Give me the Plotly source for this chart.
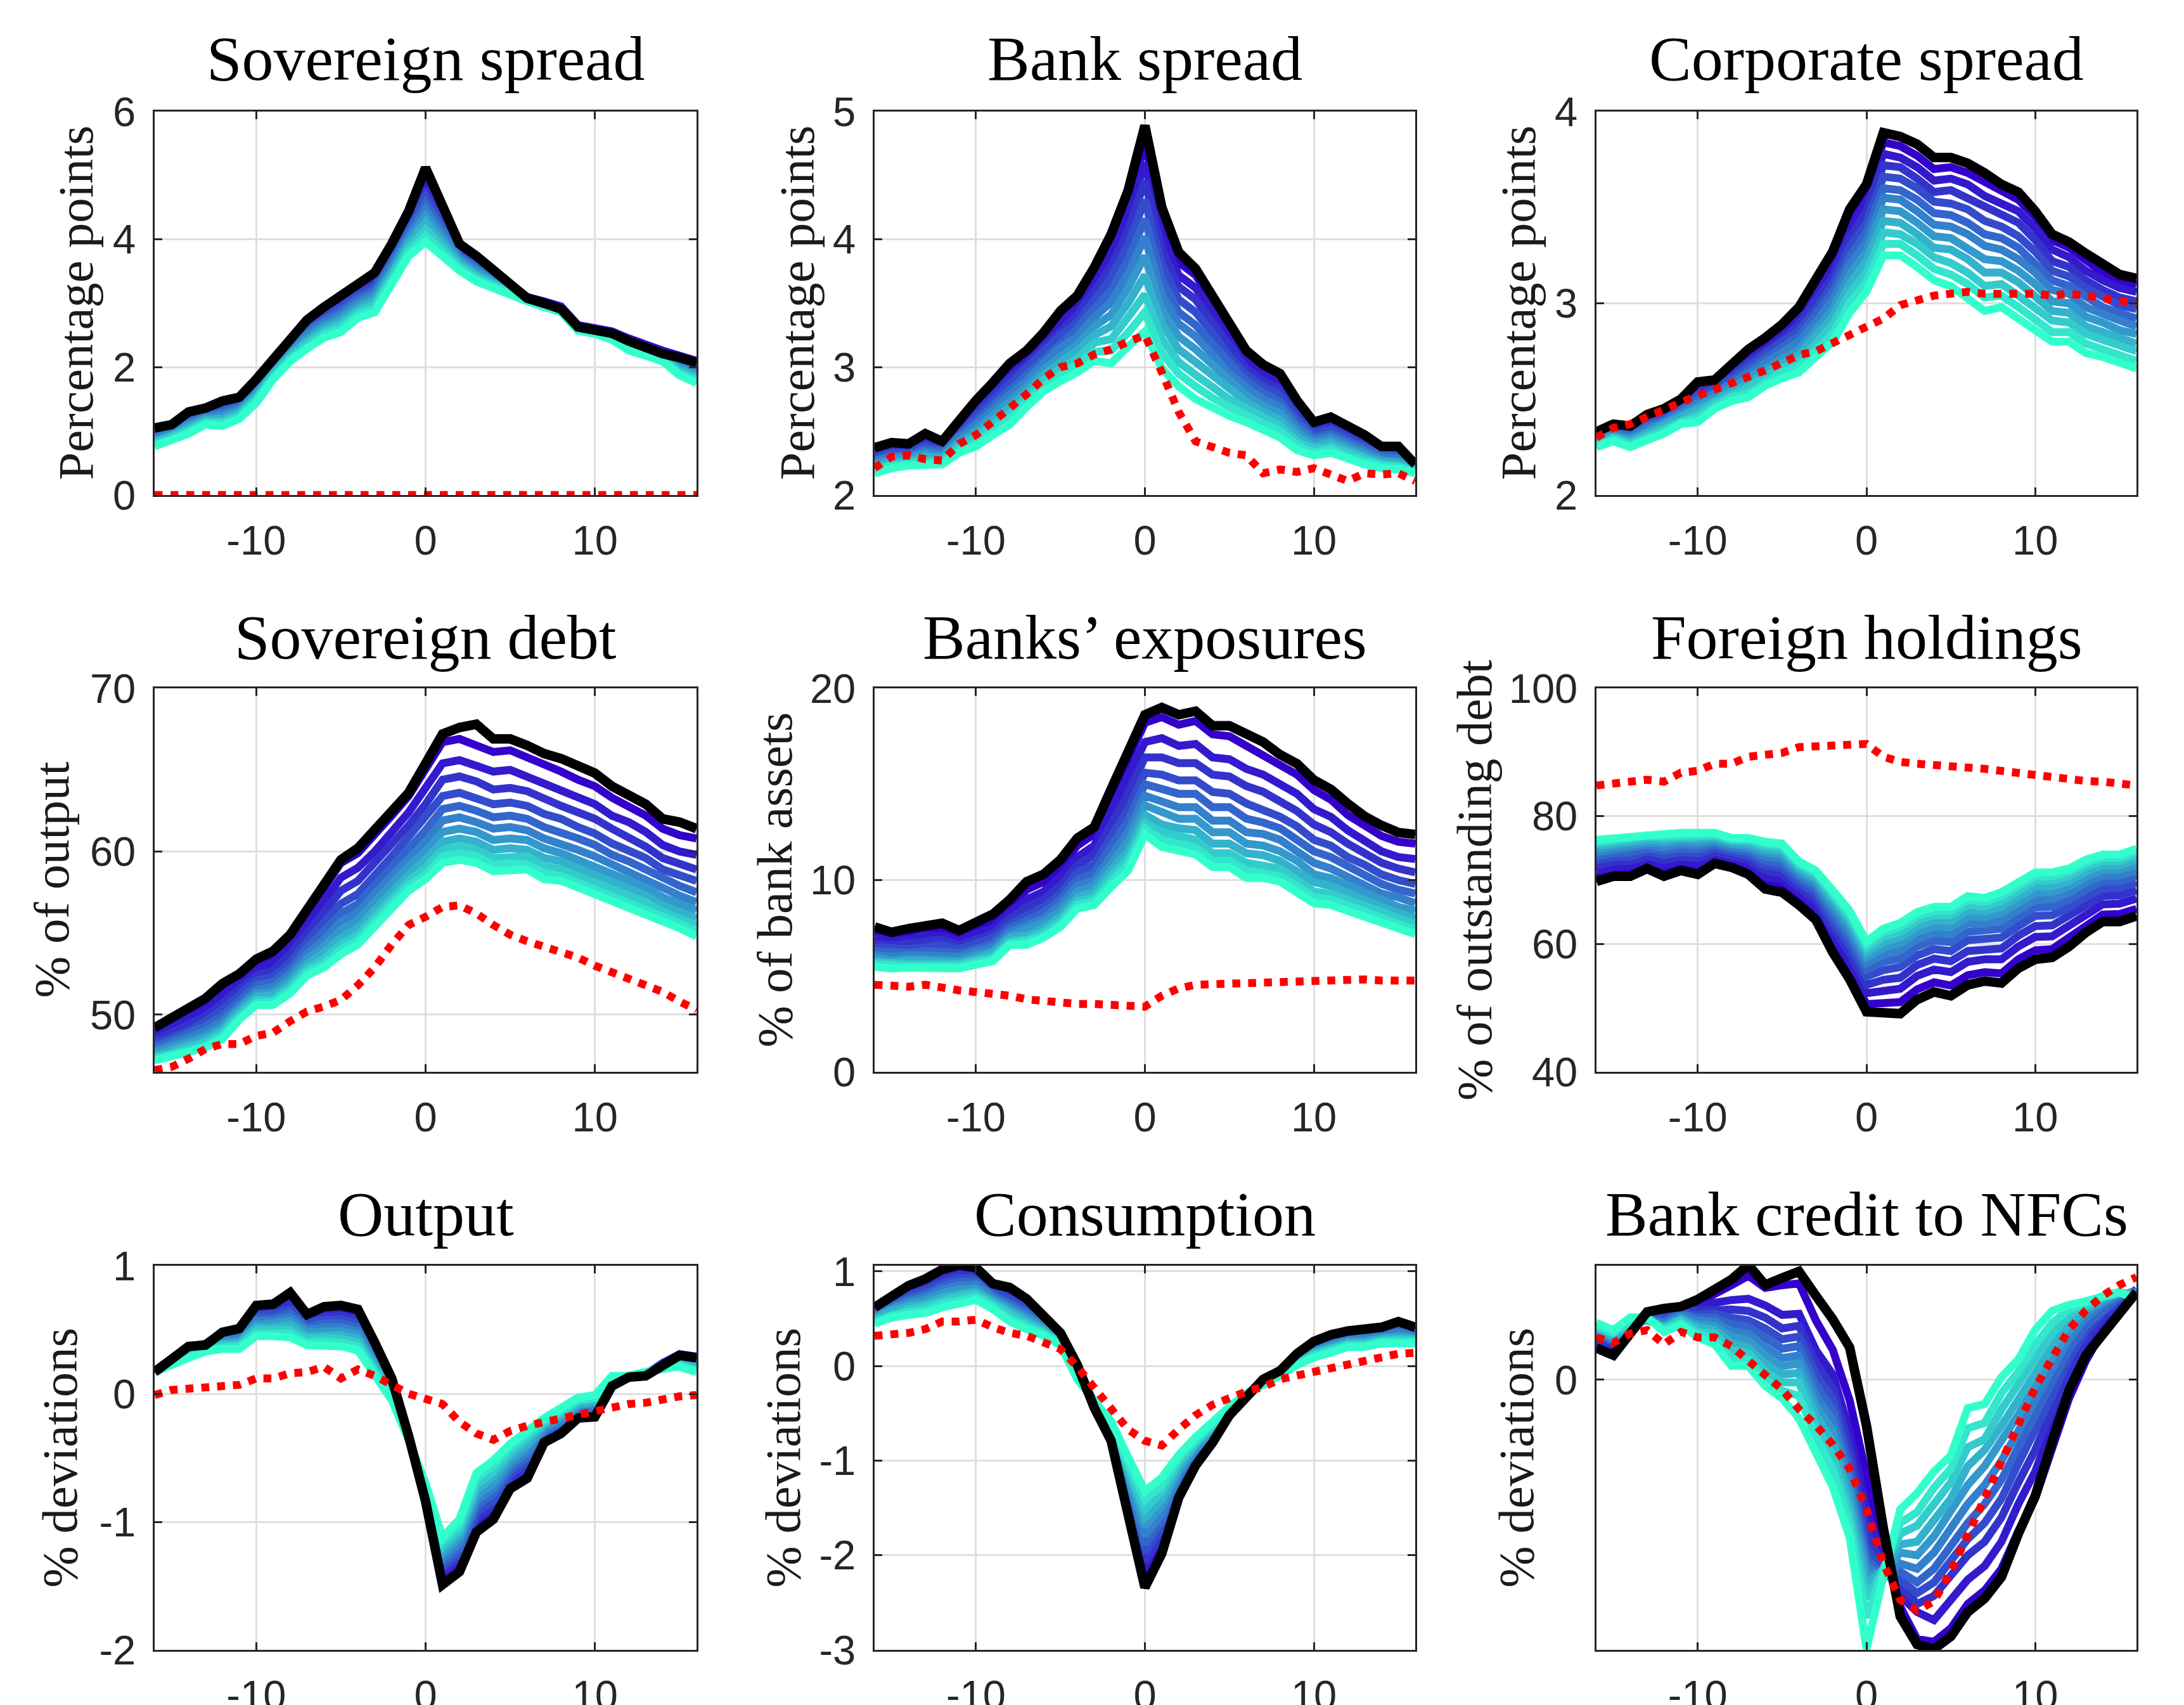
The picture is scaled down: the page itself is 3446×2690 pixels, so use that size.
import plotly.graph_objects as go

W, H = 3446, 2690
t = list(range(-16, 17))

titles = ["Sovereign spread", "Bank spread", "Corporate spread",
          "Sovereign debt", "Banks\u2019 exposures", "Foreign holdings",
          "Output", "Consumption", "Bank credit to NFCs"]
ytitles = ["Percentage points", "Percentage points", "Percentage points",
           "% of output", "% of bank assets", "% of outstanding debt",
           "% deviations", "% deviations", "% deviations"]
x_tickvals = [-10, 0, 10]
x_ticktext = ["-10", "0", "10"]

# ---------------- Sovereign spread ----------------
sov_spread_black = [1.05, 1.10, 1.30, 1.36, 1.47, 1.53, 1.81, 2.12, 2.43, 2.74, 2.94, 3.11, 3.31, 3.48, 3.93, 4.44, 5.12,
                    4.53, 3.93, 3.74, 3.51, 3.28, 3.08, 3.00, 2.91, 2.63, 2.57, 2.53, 2.41, 2.29, 2.21, 2.15, 2.07]
sov_spread_red = [0.0] * 33
sov_spread_fan = [
    [1.02, 0.99, 0.97, 0.94, 0.92, 0.89, 0.86, 0.84, 0.81, 0.79, 0.76],
    [1.08, 1.06, 1.03, 1.01, 0.99, 0.97, 0.94, 0.92, 0.90, 0.87, 0.85],
    [1.28, 1.25, 1.22, 1.18, 1.15, 1.12, 1.09, 1.06, 1.02, 0.99, 0.96],
    [1.35, 1.33, 1.30, 1.28, 1.25, 1.23, 1.20, 1.18, 1.15, 1.13, 1.10],
    [1.45, 1.41, 1.38, 1.34, 1.30, 1.27, 1.23, 1.19, 1.15, 1.12, 1.08],
    [1.52, 1.49, 1.45, 1.42, 1.39, 1.36, 1.32, 1.29, 1.26, 1.22, 1.19],
    [1.80, 1.76, 1.73, 1.69, 1.66, 1.62, 1.58, 1.55, 1.51, 1.48, 1.44],
    [2.10, 2.07, 2.04, 2.01, 1.98, 1.96, 1.93, 1.90, 1.87, 1.84, 1.81],
    [2.42, 2.39, 2.35, 2.32, 2.29, 2.26, 2.22, 2.19, 2.16, 2.12, 2.09],
    [2.72, 2.68, 2.63, 2.59, 2.55, 2.51, 2.46, 2.42, 2.38, 2.33, 2.29],
    [2.93, 2.88, 2.84, 2.79, 2.74, 2.70, 2.65, 2.60, 2.55, 2.51, 2.46],
    [3.10, 3.05, 2.99, 2.94, 2.88, 2.83, 2.77, 2.72, 2.66, 2.61, 2.55],
    [3.28, 3.23, 3.18, 3.13, 3.08, 3.03, 2.97, 2.92, 2.87, 2.82, 2.77],
    [3.45, 3.39, 3.33, 3.27, 3.21, 3.16, 3.10, 3.04, 2.98, 2.92, 2.86],
    [3.88, 3.82, 3.76, 3.70, 3.64, 3.58, 3.52, 3.46, 3.40, 3.34, 3.28],
    [4.38, 4.32, 4.25, 4.19, 4.12, 4.06, 4.00, 3.93, 3.87, 3.80, 3.74],
    [4.98, 4.88, 4.78, 4.67, 4.57, 4.47, 4.37, 4.27, 4.16, 4.06, 3.96],
    [4.45, 4.38, 4.31, 4.24, 4.17, 4.10, 4.02, 3.95, 3.88, 3.81, 3.74],
    [3.90, 3.86, 3.82, 3.78, 3.74, 3.71, 3.67, 3.63, 3.59, 3.55, 3.51],
    [3.72, 3.68, 3.64, 3.61, 3.57, 3.53, 3.49, 3.45, 3.42, 3.38, 3.34],
    [3.50, 3.47, 3.45, 3.42, 3.39, 3.37, 3.34, 3.31, 3.28, 3.26, 3.23],
    [3.28, 3.27, 3.25, 3.24, 3.22, 3.21, 3.20, 3.18, 3.17, 3.15, 3.14],
    [3.10, 3.09, 3.09, 3.08, 3.07, 3.07, 3.06, 3.05, 3.04, 3.04, 3.03],
    [3.03, 3.02, 3.01, 3.00, 2.99, 2.99, 2.98, 2.97, 2.96, 2.95, 2.94],
    [2.95, 2.94, 2.93, 2.92, 2.91, 2.91, 2.90, 2.89, 2.88, 2.87, 2.86],
    [2.66, 2.65, 2.64, 2.63, 2.62, 2.62, 2.61, 2.60, 2.59, 2.58, 2.57],
    [2.60, 2.59, 2.58, 2.58, 2.57, 2.56, 2.55, 2.54, 2.54, 2.53, 2.52],
    [2.56, 2.55, 2.53, 2.52, 2.51, 2.50, 2.48, 2.47, 2.46, 2.44, 2.43],
    [2.45, 2.43, 2.41, 2.39, 2.37, 2.36, 2.34, 2.32, 2.30, 2.28, 2.26],
    [2.34, 2.32, 2.31, 2.29, 2.28, 2.26, 2.24, 2.23, 2.21, 2.20, 2.18],
    [2.26, 2.24, 2.23, 2.21, 2.19, 2.18, 2.16, 2.14, 2.12, 2.11, 2.09],
    [2.18, 2.15, 2.12, 2.09, 2.06, 2.03, 1.99, 1.96, 1.93, 1.90, 1.87],
    [2.10, 2.07, 2.03, 2.00, 1.96, 1.93, 1.89, 1.86, 1.82, 1.79, 1.75],
]

# ---------------- Bank spread ----------------
bank_spread_black = [2.37, 2.41, 2.40, 2.48, 2.42, 2.59, 2.74, 2.88, 3.03, 3.13, 3.27, 3.44, 3.56, 3.78, 4.04, 4.38, 4.89,
                     4.25, 3.90, 3.77, 3.56, 3.32, 3.13, 3.02, 2.95, 2.74, 2.57, 2.61, 2.55, 2.47, 2.38, 2.38, 2.24]
bank_spread_red = [2.21, 2.30, 2.31, 2.28, 2.27, 2.40, 2.47, 2.57, 2.68, 2.79, 2.91, 3.00, 3.03, 3.10, 3.14, 3.20, 3.25,
                   2.96, 2.65, 2.42, 2.38, 2.33, 2.31, 2.17, 2.20, 2.18, 2.21, 2.16, 2.11, 2.17, 2.16, 2.17, 2.11]
bank_spread_fan = [
    [2.34, 2.32, 2.31, 2.29, 2.27, 2.26, 2.24, 2.22, 2.20, 2.19, 2.17],
    [2.38, 2.36, 2.35, 2.33, 2.31, 2.30, 2.28, 2.26, 2.24, 2.23, 2.21],
    [2.37, 2.36, 2.34, 2.33, 2.31, 2.30, 2.29, 2.27, 2.26, 2.24, 2.23],
    [2.45, 2.43, 2.41, 2.38, 2.36, 2.34, 2.32, 2.30, 2.27, 2.25, 2.23],
    [2.40, 2.38, 2.37, 2.35, 2.34, 2.32, 2.30, 2.29, 2.27, 2.26, 2.24],
    [2.56, 2.54, 2.51, 2.49, 2.47, 2.45, 2.42, 2.40, 2.38, 2.35, 2.33],
    [2.71, 2.68, 2.64, 2.61, 2.58, 2.55, 2.51, 2.48, 2.45, 2.41, 2.38],
    [2.85, 2.81, 2.77, 2.74, 2.70, 2.66, 2.62, 2.58, 2.55, 2.51, 2.47],
    [3.00, 2.96, 2.91, 2.87, 2.82, 2.78, 2.73, 2.69, 2.64, 2.60, 2.55],
    [3.10, 3.06, 3.02, 2.98, 2.94, 2.90, 2.85, 2.81, 2.77, 2.73, 2.69],
    [3.24, 3.20, 3.15, 3.11, 3.07, 3.03, 2.98, 2.94, 2.90, 2.85, 2.81],
    [3.40, 3.35, 3.30, 3.25, 3.20, 3.15, 3.09, 3.04, 2.99, 2.94, 2.89],
    [3.52, 3.46, 3.41, 3.35, 3.30, 3.24, 3.18, 3.13, 3.07, 3.02, 2.96],
    [3.73, 3.66, 3.59, 3.53, 3.46, 3.39, 3.32, 3.25, 3.19, 3.12, 3.05],
    [3.98, 3.89, 3.79, 3.70, 3.60, 3.51, 3.41, 3.32, 3.22, 3.13, 3.03],
    [4.30, 4.19, 4.07, 3.96, 3.84, 3.73, 3.62, 3.50, 3.39, 3.27, 3.16],
    [4.75, 4.60, 4.46, 4.31, 4.16, 4.02, 3.87, 3.72, 3.57, 3.43, 3.28],
    [4.15, 4.03, 3.92, 3.80, 3.69, 3.57, 3.45, 3.34, 3.22, 3.11, 2.99],
    [3.82, 3.72, 3.63, 3.53, 3.43, 3.34, 3.24, 3.14, 3.04, 2.95, 2.85],
    [3.72, 3.62, 3.53, 3.43, 3.33, 3.24, 3.14, 3.04, 2.94, 2.85, 2.75],
    [3.52, 3.44, 3.35, 3.27, 3.18, 3.10, 3.02, 2.93, 2.85, 2.76, 2.68],
    [3.28, 3.21, 3.15, 3.08, 3.02, 2.95, 2.88, 2.82, 2.75, 2.69, 2.62],
    [3.10, 3.05, 2.99, 2.94, 2.89, 2.84, 2.78, 2.73, 2.68, 2.62, 2.57],
    [2.99, 2.94, 2.89, 2.85, 2.80, 2.75, 2.70, 2.65, 2.61, 2.56, 2.51],
    [2.92, 2.87, 2.83, 2.78, 2.73, 2.69, 2.64, 2.59, 2.54, 2.50, 2.45],
    [2.71, 2.67, 2.64, 2.60, 2.57, 2.53, 2.49, 2.46, 2.42, 2.39, 2.35],
    [2.55, 2.53, 2.50, 2.48, 2.45, 2.43, 2.41, 2.38, 2.36, 2.33, 2.31],
    [2.58, 2.56, 2.53, 2.51, 2.48, 2.46, 2.43, 2.41, 2.38, 2.36, 2.33],
    [2.52, 2.50, 2.47, 2.45, 2.42, 2.40, 2.38, 2.35, 2.33, 2.30, 2.28],
    [2.45, 2.43, 2.41, 2.39, 2.37, 2.35, 2.32, 2.30, 2.28, 2.26, 2.24],
    [2.37, 2.35, 2.34, 2.32, 2.31, 2.29, 2.27, 2.26, 2.24, 2.23, 2.21],
    [2.36, 2.34, 2.33, 2.31, 2.30, 2.28, 2.26, 2.25, 2.23, 2.22, 2.20],
    [2.25, 2.24, 2.23, 2.23, 2.22, 2.21, 2.20, 2.19, 2.18, 2.18, 2.17],
]

# ---------------- Corporate spread ----------------
corp_spread_black = [2.33, 2.37, 2.36, 2.42, 2.45, 2.50, 2.59, 2.60, 2.68, 2.76, 2.82, 2.89, 2.98, 3.12, 3.27, 3.49, 3.62,
                     3.89, 3.87, 3.83, 3.76, 3.76, 3.73, 3.68, 3.62, 3.58, 3.48, 3.36, 3.32, 3.26, 3.21, 3.15, 3.13]
corp_spread_red = [2.30, 2.35, 2.37, 2.41, 2.44, 2.48, 2.52, 2.55, 2.58, 2.61, 2.65, 2.69, 2.73, 2.75, 2.79, 2.83, 2.87,
                   2.92, 2.99, 3.02, 3.04, 3.05, 3.06, 3.05, 3.05, 3.06, 3.05, 3.04, 3.05, 3.04, 3.03, 3.01, 3.00]
corp_spread_fan = [
    [2.32, 2.31, 2.31, 2.30, 2.29, 2.29, 2.28, 2.27, 2.26, 2.26, 2.25],
    [2.36, 2.35, 2.34, 2.34, 2.33, 2.32, 2.31, 2.30, 2.30, 2.29, 2.28],
    [2.35, 2.34, 2.33, 2.32, 2.31, 2.30, 2.29, 2.28, 2.27, 2.26, 2.25],
    [2.41, 2.40, 2.38, 2.37, 2.36, 2.35, 2.33, 2.32, 2.31, 2.29, 2.28],
    [2.44, 2.43, 2.42, 2.40, 2.39, 2.38, 2.37, 2.36, 2.34, 2.33, 2.32],
    [2.49, 2.48, 2.47, 2.45, 2.44, 2.43, 2.42, 2.41, 2.39, 2.38, 2.37],
    [2.58, 2.56, 2.54, 2.52, 2.50, 2.48, 2.46, 2.44, 2.42, 2.40, 2.38],
    [2.59, 2.58, 2.56, 2.55, 2.53, 2.52, 2.51, 2.49, 2.48, 2.46, 2.45],
    [2.66, 2.64, 2.63, 2.61, 2.59, 2.58, 2.56, 2.54, 2.52, 2.51, 2.49],
    [2.74, 2.72, 2.69, 2.67, 2.65, 2.63, 2.60, 2.58, 2.56, 2.53, 2.51],
    [2.80, 2.78, 2.75, 2.73, 2.71, 2.69, 2.66, 2.64, 2.62, 2.59, 2.57],
    [2.86, 2.84, 2.81, 2.79, 2.76, 2.74, 2.71, 2.69, 2.66, 2.64, 2.61],
    [2.95, 2.92, 2.89, 2.86, 2.83, 2.80, 2.76, 2.73, 2.70, 2.67, 2.64],
    [3.08, 3.04, 3.01, 2.97, 2.94, 2.90, 2.86, 2.83, 2.79, 2.76, 2.72],
    [3.23, 3.19, 3.14, 3.10, 3.06, 3.02, 2.97, 2.93, 2.89, 2.84, 2.80],
    [3.44, 3.39, 3.34, 3.29, 3.24, 3.20, 3.15, 3.10, 3.05, 3.00, 2.95],
    [3.58, 3.53, 3.48, 3.42, 3.37, 3.32, 3.27, 3.22, 3.16, 3.11, 3.06],
    [3.84, 3.78, 3.72, 3.66, 3.60, 3.55, 3.49, 3.43, 3.37, 3.31, 3.25],
    [3.82, 3.76, 3.71, 3.65, 3.59, 3.54, 3.48, 3.42, 3.36, 3.31, 3.25],
    [3.77, 3.71, 3.65, 3.60, 3.54, 3.48, 3.42, 3.36, 3.31, 3.25, 3.19],
    [3.70, 3.64, 3.58, 3.53, 3.47, 3.41, 3.35, 3.29, 3.24, 3.18, 3.12],
    [3.71, 3.65, 3.59, 3.52, 3.46, 3.40, 3.34, 3.28, 3.21, 3.15, 3.09],
    [3.68, 3.62, 3.55, 3.49, 3.42, 3.36, 3.29, 3.23, 3.16, 3.10, 3.03],
    [3.63, 3.56, 3.50, 3.43, 3.36, 3.30, 3.23, 3.16, 3.09, 3.03, 2.96],
    [3.58, 3.52, 3.46, 3.40, 3.34, 3.28, 3.22, 3.16, 3.10, 3.04, 2.98],
    [3.54, 3.48, 3.42, 3.35, 3.29, 3.23, 3.17, 3.11, 3.04, 2.98, 2.92],
    [3.45, 3.39, 3.33, 3.27, 3.21, 3.16, 3.10, 3.04, 2.98, 2.92, 2.86],
    [3.33, 3.28, 3.22, 3.17, 3.12, 3.07, 3.01, 2.96, 2.91, 2.85, 2.80],
    [3.29, 3.24, 3.19, 3.14, 3.09, 3.05, 3.00, 2.95, 2.90, 2.85, 2.80],
    [3.22, 3.17, 3.12, 3.08, 3.03, 2.98, 2.93, 2.88, 2.84, 2.79, 2.74],
    [3.16, 3.12, 3.07, 3.03, 2.98, 2.94, 2.90, 2.85, 2.81, 2.76, 2.72],
    [3.12, 3.08, 3.03, 2.99, 2.95, 2.91, 2.86, 2.82, 2.78, 2.73, 2.69],
    [3.10, 3.06, 3.01, 2.97, 2.92, 2.88, 2.84, 2.79, 2.75, 2.70, 2.66],
]

# ---------------- Sovereign debt ----------------
sov_debt_black = [49.2, 49.8, 50.3, 51.0, 51.9, 52.5, 53.4, 53.9, 54.9, 56.4, 58.0, 59.5, 60.2, 61.3, 62.4, 63.6, 65.4,
                  67.2, 67.6, 67.8, 66.9, 66.9, 66.5, 66.0, 65.7, 65.3, 64.8, 64.0, 63.5, 62.9, 62.0, 61.8, 61.4]
sov_debt_red = [46.6, 46.8, 47.3, 47.9, 48.2, 48.2, 48.7, 48.9, 49.6, 50.2, 50.5, 50.9, 51.8, 52.9, 54.3, 55.5, 56.0,
                56.6, 56.7, 56.2, 55.5, 54.9, 54.5, 54.2, 53.9, 53.5, 53.0, 52.6, 52.3, 51.8, 51.4, 50.8, 50.3]
sov_debt_fan = [
    [49.0, 48.7, 48.4, 48.2, 48.0, 47.8, 47.7, 47.5, 47.4, 47.3, 47.2],
    [49.6, 49.2, 48.9, 48.6, 48.4, 48.2, 48.0, 47.8, 47.6, 47.5, 47.4],
    [50.1, 49.7, 49.4, 49.0, 48.8, 48.5, 48.3, 48.1, 48.0, 47.8, 47.7],
    [50.8, 50.3, 49.9, 49.6, 49.3, 49.0, 48.7, 48.5, 48.3, 48.1, 48.0],
    [51.7, 51.2, 50.7, 50.3, 49.9, 49.6, 49.3, 49.1, 48.9, 48.7, 48.5],
    [52.3, 51.9, 51.5, 51.2, 50.9, 50.6, 50.4, 50.2, 50.0, 49.8, 49.7],
    [53.2, 52.8, 52.4, 52.1, 51.8, 51.5, 51.3, 51.1, 50.9, 50.7, 50.6],
    [53.7, 53.2, 52.7, 52.3, 52.0, 51.7, 51.4, 51.2, 50.9, 50.8, 50.6],
    [54.7, 54.1, 53.7, 53.2, 52.8, 52.5, 52.2, 51.9, 51.7, 51.5, 51.3],
    [56.2, 55.6, 55.0, 54.5, 54.1, 53.7, 53.4, 53.1, 52.8, 52.6, 52.4],
    [57.8, 57.0, 56.3, 55.6, 55.1, 54.6, 54.2, 53.8, 53.4, 53.1, 52.9],
    [59.3, 58.4, 57.6, 56.8, 56.2, 55.7, 55.2, 54.7, 54.3, 54.0, 53.7],
    [59.9, 59.0, 58.2, 57.4, 56.8, 56.3, 55.8, 55.3, 54.9, 54.6, 54.3],
    [61.0, 60.0, 59.3, 58.5, 57.9, 57.4, 56.9, 56.4, 56.0, 55.7, 55.4],
    [62.2, 61.2, 60.4, 59.7, 59.1, 58.5, 58.0, 57.5, 57.1, 56.8, 56.5],
    [63.4, 62.4, 61.6, 60.9, 60.2, 59.6, 59.1, 58.6, 58.2, 57.9, 57.6],
    [65.0, 63.9, 62.9, 62.1, 61.3, 60.6, 60.0, 59.5, 59.0, 58.6, 58.3],
    [66.7, 65.4, 64.4, 63.4, 62.6, 61.9, 61.2, 60.6, 60.1, 59.7, 59.3],
    [66.9, 65.6, 64.6, 63.6, 62.8, 62.1, 61.4, 60.8, 60.3, 59.9, 59.5],
    [66.5, 65.3, 64.3, 63.3, 62.5, 61.8, 61.2, 60.6, 60.1, 59.7, 59.3],
    [66.1, 64.9, 63.8, 62.9, 62.1, 61.4, 60.7, 60.1, 59.6, 59.2, 58.8],
    [66.2, 65.0, 63.9, 63.0, 62.2, 61.5, 60.8, 60.2, 59.7, 59.3, 58.9],
    [65.8, 64.6, 63.7, 62.8, 62.0, 61.3, 60.7, 60.1, 59.7, 59.2, 58.9],
    [65.4, 64.2, 63.2, 62.3, 61.5, 60.8, 60.2, 59.6, 59.1, 58.7, 58.3],
    [64.9, 63.8, 62.8, 62.0, 61.2, 60.5, 59.9, 59.4, 58.9, 58.5, 58.2],
    [64.4, 63.3, 62.4, 61.5, 60.8, 60.1, 59.5, 59.0, 58.5, 58.1, 57.8],
    [64.0, 62.9, 62.0, 61.1, 60.4, 59.7, 59.1, 58.6, 58.1, 57.7, 57.4],
    [63.3, 62.2, 61.4, 60.5, 59.8, 59.2, 58.6, 58.1, 57.7, 57.3, 57.0],
    [62.8, 61.8, 60.9, 60.1, 59.4, 58.8, 58.2, 57.7, 57.3, 56.9, 56.6],
    [62.2, 61.2, 60.3, 59.6, 58.9, 58.3, 57.8, 57.3, 56.9, 56.5, 56.2],
    [61.4, 60.4, 59.6, 58.9, 58.3, 57.7, 57.2, 56.7, 56.3, 56.0, 55.7],
    [61.0, 60.0, 59.2, 58.5, 57.9, 57.3, 56.8, 56.3, 55.9, 55.6, 55.3],
    [60.8, 59.8, 58.9, 58.2, 57.5, 56.9, 56.4, 55.9, 55.5, 55.1, 54.8],
]

# ---------------- Banks' exposures ----------------
bank_exp_black = [7.56, 7.28, 7.47, 7.66, 7.75, 7.37, 7.75, 8.22, 8.98, 9.92, 10.30, 11.06, 12.19, 12.76, 14.74, 16.54, 18.62,
                  19.00, 18.62, 18.81, 18.05, 18.05, 17.58, 17.20, 16.54, 16.07, 15.22, 14.74, 13.99, 13.33, 12.85, 12.48, 12.38]
bank_exp_red = [4.54, 4.48, 4.44, 4.54, 4.35, 4.25, 4.16, 4.10, 3.97, 3.78, 3.69, 3.59, 3.54, 3.54, 3.50, 3.46, 3.40,
                3.97, 4.35, 4.54, 4.57, 4.63, 4.67, 4.73, 4.73, 4.73, 4.73, 4.76, 4.86, 4.82, 4.76, 4.76, 4.76]
bank_exp_fan = [
    [7.3, 7.0, 6.7, 6.5, 6.3, 6.1, 6.0, 5.8, 5.7, 5.6, 5.48],
    [7.1, 6.8, 6.6, 6.4, 6.2, 6.0, 5.8, 5.7, 5.6, 5.5, 5.39],
    [7.2, 6.9, 6.7, 6.4, 6.2, 6.1, 5.9, 5.8, 5.6, 5.5, 5.43],
    [7.4, 7.1, 6.8, 6.5, 6.3, 6.1, 5.9, 5.8, 5.6, 5.5, 5.39],
    [7.5, 7.1, 6.9, 6.6, 6.3, 6.1, 5.9, 5.8, 5.6, 5.5, 5.39],
    [7.1, 6.8, 6.6, 6.4, 6.2, 6.0, 5.8, 5.7, 5.6, 5.5, 5.39],
    [7.5, 7.2, 6.9, 6.7, 6.4, 6.3, 6.1, 5.9, 5.8, 5.7, 5.58],
    [7.9, 7.5, 7.2, 7.0, 6.7, 6.5, 6.3, 6.2, 6.0, 5.9, 5.77],
    [8.6, 8.3, 8.0, 7.7, 7.5, 7.3, 7.1, 7.0, 6.8, 6.7, 6.62],
    [9.5, 9.0, 8.6, 8.2, 7.9, 7.6, 7.4, 7.1, 6.9, 6.8, 6.62],
    [9.9, 9.4, 9.0, 8.6, 8.3, 8.0, 7.8, 7.5, 7.3, 7.1, 6.99],
    [10.7, 10.2, 9.7, 9.3, 9.0, 8.7, 8.4, 8.1, 7.9, 7.7, 7.56],
    [11.8, 11.2, 10.8, 10.4, 10.0, 9.7, 9.4, 9.1, 8.9, 8.7, 8.51],
    [12.4, 11.8, 11.3, 10.8, 10.4, 10.0, 9.7, 9.4, 9.1, 8.9, 8.70],
    [14.4, 13.6, 12.9, 12.3, 11.8, 11.3, 10.9, 10.5, 10.2, 9.9, 9.64],
    [16.3, 15.3, 14.5, 13.7, 13.1, 12.5, 12.0, 11.5, 11.1, 10.8, 10.49],
    [18.2, 17.2, 16.4, 15.6, 15.0, 14.4, 13.9, 13.4, 13.0, 12.7, 12.38],
    [18.5, 17.4, 16.4, 15.5, 14.8, 14.1, 13.5, 12.9, 12.5, 12.1, 11.72],
    [18.1, 17.0, 16.1, 15.2, 14.5, 13.8, 13.2, 12.7, 12.3, 11.9, 11.53],
    [18.3, 17.1, 16.1, 15.2, 14.5, 13.8, 13.2, 12.6, 12.1, 11.7, 11.34],
    [17.6, 16.4, 15.5, 14.6, 13.8, 13.1, 12.5, 11.9, 11.4, 11.0, 10.68],
    [17.5, 16.3, 15.4, 14.5, 13.8, 13.1, 12.5, 11.9, 11.4, 11.0, 10.68],
    [17.0, 15.8, 14.9, 14.0, 13.2, 12.5, 11.9, 11.4, 10.9, 10.5, 10.11],
    [16.6, 15.5, 14.6, 13.7, 13.0, 12.4, 11.8, 11.3, 10.8, 10.4, 10.11],
    [16.0, 15.0, 14.1, 13.3, 12.7, 12.1, 11.5, 11.0, 10.6, 10.2, 9.92],
    [15.5, 14.5, 13.6, 12.8, 12.1, 11.5, 11.0, 10.5, 10.0, 9.7, 9.36],
    [14.7, 13.7, 12.9, 12.1, 11.5, 10.9, 10.3, 9.9, 9.4, 9.1, 8.79],
    [14.2, 13.3, 12.5, 11.8, 11.2, 10.6, 10.1, 9.7, 9.3, 9.0, 8.70],
    [13.4, 12.6, 11.9, 11.2, 10.7, 10.2, 9.7, 9.3, 9.0, 8.7, 8.41],
    [12.8, 12.0, 11.4, 10.8, 10.2, 9.8, 9.3, 9.0, 8.6, 8.4, 8.13],
    [12.3, 11.5, 10.9, 10.3, 9.8, 9.3, 8.9, 8.6, 8.3, 8.0, 7.75],
    [12.0, 11.2, 10.6, 10.0, 9.5, 9.1, 8.6, 8.3, 8.0, 7.7, 7.47],
    [11.9, 11.1, 10.4, 9.8, 9.3, 8.8, 8.4, 8.0, 7.7, 7.4, 7.18],
]

# ---------------- Foreign holdings ----------------
foreign_black = [69.8, 70.6, 70.6, 71.8, 70.6, 71.5, 70.9, 72.6, 72.0, 70.9, 68.6, 68.1, 66.1, 63.8, 58.7, 54.5, 49.4,
                 49.1, 49.1, 51.3, 52.5, 51.9, 53.6, 54.2, 53.9, 56.2, 57.6, 57.9, 59.6, 61.8, 63.5, 63.5, 64.4]
foreign_red = [84.8, 85.1, 85.4, 85.7, 85.4, 86.8, 87.1, 88.2, 88.2, 89.3, 89.6, 89.9, 90.8, 90.9, 90.9, 91.0, 91.3,
               89.3, 88.5, 88.2, 87.9, 87.6, 87.6, 87.4, 87.1, 86.8, 86.2, 85.9, 85.7, 85.5, 85.4, 85.1, 84.8]
foreign_fan = [
    [70.5, 71.5, 72.3, 73.1, 73.7, 74.3, 74.8, 75.3, 75.7, 76.0, 76.3],
    [71.2, 72.1, 72.9, 73.6, 74.2, 74.7, 75.2, 75.6, 76.0, 76.3, 76.6],
    [71.2, 72.2, 73.0, 73.7, 74.3, 74.9, 75.4, 75.9, 76.3, 76.6, 76.9],
    [72.3, 73.1, 73.8, 74.5, 75.0, 75.5, 75.9, 76.3, 76.7, 77.0, 77.2],
    [71.3, 72.3, 73.1, 73.9, 74.6, 75.1, 75.7, 76.1, 76.6, 76.9, 77.2],
    [72.1, 73.0, 73.7, 74.4, 75.0, 75.6, 76.0, 76.5, 76.8, 77.1, 77.4],
    [71.6, 72.6, 73.4, 74.2, 74.8, 75.4, 75.9, 76.4, 76.8, 77.1, 77.4],
    [73.1, 73.8, 74.4, 75.0, 75.5, 75.9, 76.3, 76.6, 76.9, 77.2, 77.4],
    [72.6, 73.3, 73.8, 74.4, 74.8, 75.2, 75.6, 75.9, 76.2, 76.4, 76.6],
    [71.6, 72.5, 73.2, 73.8, 74.4, 74.9, 75.3, 75.7, 76.1, 76.4, 76.6],
    [69.4, 70.5, 71.5, 72.3, 73.0, 73.7, 74.3, 74.8, 75.3, 75.7, 76.0],
    [68.9, 70.1, 71.0, 71.9, 72.6, 73.3, 73.9, 74.5, 75.0, 75.4, 75.7],
    [67.0, 68.0, 68.8, 69.6, 70.3, 70.8, 71.4, 71.8, 72.3, 72.6, 72.9],
    [64.8, 65.9, 66.9, 67.8, 68.5, 69.2, 69.8, 70.3, 70.8, 71.2, 71.5],
    [59.8, 61.3, 62.5, 63.6, 64.5, 65.4, 66.2, 66.9, 67.5, 68.0, 68.4],
    [55.6, 57.2, 58.6, 59.8, 60.9, 61.8, 62.7, 63.5, 64.1, 64.7, 65.2],
    [50.6, 52.3, 53.6, 54.9, 56.0, 57.0, 57.9, 58.6, 59.3, 59.9, 60.4],
    [50.8, 52.8, 54.4, 55.9, 57.2, 58.3, 59.4, 60.3, 61.1, 61.8, 62.4],
    [50.9, 53.0, 54.7, 56.4, 57.7, 59.0, 60.1, 61.1, 61.9, 62.7, 63.3],
    [52.9, 55.0, 56.7, 58.2, 59.6, 60.8, 61.9, 62.8, 63.7, 64.4, 65.0],
    [54.0, 56.0, 57.7, 59.2, 60.5, 61.7, 62.7, 63.7, 64.5, 65.2, 65.8],
    [53.5, 55.6, 57.3, 58.9, 60.3, 61.5, 62.6, 63.6, 64.5, 65.2, 65.8],
    [55.1, 57.2, 58.9, 60.6, 61.9, 63.2, 64.3, 65.3, 66.1, 66.9, 67.5],
    [55.6, 57.6, 59.2, 60.7, 62.0, 63.1, 64.2, 65.1, 65.9, 66.6, 67.2],
    [55.4, 57.6, 59.3, 61.0, 62.4, 63.7, 64.8, 65.8, 66.7, 67.5, 68.1],
    [57.6, 59.6, 61.3, 62.8, 64.2, 65.3, 66.4, 67.4, 68.2, 68.9, 69.5],
    [59.0, 61.1, 62.8, 64.4, 65.7, 66.9, 68.0, 69.0, 69.9, 70.6, 71.2],
    [59.2, 61.2, 62.9, 64.5, 65.8, 67.0, 68.1, 69.0, 69.9, 70.6, 71.2],
    [60.9, 62.8, 64.3, 65.7, 66.9, 68.0, 69.0, 69.8, 70.6, 71.3, 71.8],
    [62.8, 64.6, 66.0, 67.4, 68.5, 69.6, 70.5, 71.3, 72.1, 72.7, 73.2],
    [64.6, 66.2, 67.5, 68.7, 69.8, 70.7, 71.6, 72.3, 73.0, 73.5, 74.0],
    [64.7, 66.3, 67.6, 68.8, 69.8, 70.7, 71.6, 72.3, 73.0, 73.5, 74.0],
    [65.5, 67.1, 68.4, 69.6, 70.7, 71.6, 72.5, 73.2, 73.9, 74.4, 74.9],
]

# ---------------- Output ----------------
output_black = [0.17, 0.27, 0.37, 0.38, 0.48, 0.51, 0.69, 0.70, 0.79, 0.62, 0.68, 0.69, 0.66, 0.40, 0.12, -0.33, -0.84,
                -1.49, -1.39, -1.08, -0.98, -0.74, -0.66, -0.38, -0.31, -0.19, -0.18, 0.06, 0.13, 0.14, 0.23, 0.30, 0.28]
output_red = [-0.01, 0.03, 0.04, 0.05, 0.06, 0.07, 0.12, 0.12, 0.16, 0.17, 0.21, 0.12, 0.19, 0.14, 0.07, 0.00, -0.04,
              -0.08, -0.22, -0.31, -0.36, -0.29, -0.25, -0.22, -0.19, -0.17, -0.14, -0.11, -0.08, -0.07, -0.04, -0.02, -0.01]
output_fan = [
    [0.18, 0.18, 0.18, 0.18, 0.18, 0.18, 0.17, 0.17, 0.17, 0.17, 0.17],
    [0.27, 0.27, 0.26, 0.26, 0.25, 0.25, 0.25, 0.24, 0.24, 0.23, 0.23],
    [0.37, 0.36, 0.35, 0.34, 0.33, 0.33, 0.32, 0.31, 0.30, 0.29, 0.28],
    [0.39, 0.38, 0.38, 0.37, 0.37, 0.36, 0.35, 0.35, 0.34, 0.34, 0.33],
    [0.48, 0.47, 0.45, 0.44, 0.43, 0.42, 0.40, 0.39, 0.38, 0.36, 0.35],
    [0.51, 0.49, 0.48, 0.46, 0.45, 0.43, 0.41, 0.40, 0.38, 0.37, 0.35],
    [0.68, 0.66, 0.63, 0.61, 0.59, 0.57, 0.54, 0.52, 0.50, 0.47, 0.45],
    [0.69, 0.67, 0.64, 0.62, 0.59, 0.57, 0.55, 0.52, 0.50, 0.47, 0.45],
    [0.76, 0.73, 0.70, 0.66, 0.63, 0.60, 0.57, 0.54, 0.50, 0.47, 0.44],
    [0.62, 0.60, 0.57, 0.55, 0.52, 0.50, 0.48, 0.45, 0.43, 0.40, 0.38],
    [0.66, 0.63, 0.60, 0.58, 0.55, 0.52, 0.49, 0.46, 0.44, 0.41, 0.38],
    [0.67, 0.64, 0.61, 0.58, 0.55, 0.52, 0.49, 0.46, 0.43, 0.40, 0.37],
    [0.64, 0.61, 0.58, 0.55, 0.52, 0.49, 0.46, 0.43, 0.40, 0.37, 0.34],
    [0.39, 0.37, 0.34, 0.32, 0.29, 0.27, 0.24, 0.22, 0.19, 0.17, 0.14],
    [0.11, 0.09, 0.08, 0.06, 0.05, 0.03, 0.01, 0.00, -0.02, -0.03, -0.05],
    [-0.33, -0.33, -0.34, -0.34, -0.34, -0.35, -0.35, -0.35, -0.35, -0.36, -0.36],
    [-0.83, -0.82, -0.80, -0.79, -0.78, -0.77, -0.75, -0.74, -0.73, -0.71, -0.70],
    [-1.45, -1.42, -1.38, -1.35, -1.32, -1.29, -1.25, -1.22, -1.19, -1.15, -1.12],
    [-1.36, -1.32, -1.28, -1.25, -1.21, -1.17, -1.13, -1.09, -1.06, -1.02, -0.98],
    [-1.06, -1.02, -0.97, -0.93, -0.88, -0.84, -0.80, -0.75, -0.71, -0.66, -0.62],
    [-0.96, -0.92, -0.87, -0.83, -0.78, -0.74, -0.70, -0.65, -0.61, -0.56, -0.52],
    [-0.73, -0.70, -0.66, -0.63, -0.59, -0.56, -0.53, -0.49, -0.46, -0.42, -0.39],
    [-0.64, -0.60, -0.57, -0.53, -0.50, -0.46, -0.42, -0.39, -0.35, -0.32, -0.28],
    [-0.37, -0.35, -0.33, -0.32, -0.30, -0.28, -0.26, -0.24, -0.23, -0.21, -0.19],
    [-0.30, -0.28, -0.26, -0.24, -0.22, -0.21, -0.19, -0.17, -0.15, -0.13, -0.11],
    [-0.18, -0.17, -0.15, -0.14, -0.12, -0.11, -0.09, -0.08, -0.06, -0.05, -0.03],
    [-0.17, -0.15, -0.14, -0.12, -0.11, -0.09, -0.07, -0.06, -0.04, -0.03, -0.01],
    [0.06, 0.07, 0.08, 0.08, 0.09, 0.10, 0.11, 0.12, 0.12, 0.13, 0.14],
    [0.13, 0.13, 0.13, 0.13, 0.13, 0.14, 0.14, 0.14, 0.14, 0.14, 0.14],
    [0.15, 0.15, 0.15, 0.16, 0.16, 0.16, 0.16, 0.16, 0.17, 0.17, 0.17],
    [0.24, 0.24, 0.23, 0.23, 0.22, 0.22, 0.22, 0.21, 0.21, 0.20, 0.20],
    [0.31, 0.30, 0.29, 0.28, 0.27, 0.26, 0.25, 0.24, 0.23, 0.22, 0.21],
    [0.29, 0.28, 0.27, 0.25, 0.24, 0.23, 0.22, 0.21, 0.19, 0.18, 0.17],
]

# ---------------- Consumption ----------------
cons_black = [0.62, 0.75, 0.85, 0.92, 1.02, 1.07, 1.04, 0.87, 0.83, 0.71, 0.54, 0.35, 0.01, -0.44, -0.79, -1.55, -2.34,
              -1.98, -1.39, -1.05, -0.81, -0.52, -0.33, -0.14, -0.05, 0.13, 0.26, 0.33, 0.37, 0.38, 0.41, 0.47, 0.41]
cons_red = [0.32, 0.33, 0.35, 0.39, 0.47, 0.47, 0.49, 0.41, 0.35, 0.32, 0.26, 0.18, -0.01, -0.22, -0.44, -0.67, -0.79,
            -0.84, -0.67, -0.52, -0.41, -0.33, -0.27, -0.22, -0.14, -0.10, -0.06, -0.03, 0.03, 0.07, 0.11, 0.13, 0.14]
cons_fan = [
    [0.61, 0.59, 0.58, 0.56, 0.55, 0.53, 0.51, 0.50, 0.48, 0.46, 0.45],
    [0.73, 0.71, 0.69, 0.66, 0.64, 0.62, 0.60, 0.58, 0.55, 0.53, 0.51],
    [0.83, 0.80, 0.77, 0.74, 0.71, 0.69, 0.66, 0.63, 0.60, 0.57, 0.54],
    [0.90, 0.87, 0.83, 0.80, 0.76, 0.73, 0.70, 0.66, 0.63, 0.59, 0.56],
    [0.99, 0.95, 0.92, 0.88, 0.84, 0.81, 0.77, 0.73, 0.69, 0.66, 0.62],
    [1.04, 1.00, 0.96, 0.93, 0.89, 0.85, 0.81, 0.77, 0.74, 0.70, 0.66],
    [1.01, 0.98, 0.95, 0.92, 0.89, 0.86, 0.82, 0.79, 0.76, 0.73, 0.70],
    [0.85, 0.83, 0.80, 0.78, 0.75, 0.73, 0.70, 0.68, 0.65, 0.63, 0.60],
    [0.81, 0.78, 0.74, 0.71, 0.67, 0.64, 0.61, 0.57, 0.54, 0.50, 0.47],
    [0.69, 0.66, 0.63, 0.60, 0.57, 0.54, 0.51, 0.48, 0.45, 0.42, 0.39],
    [0.52, 0.50, 0.48, 0.46, 0.44, 0.42, 0.40, 0.38, 0.36, 0.34, 0.32],
    [0.33, 0.32, 0.31, 0.30, 0.29, 0.28, 0.26, 0.25, 0.24, 0.23, 0.22],
    [0.00, -0.01, -0.03, -0.04, -0.06, -0.07, -0.08, -0.10, -0.11, -0.13, -0.14],
    [-0.44, -0.43, -0.43, -0.42, -0.41, -0.41, -0.40, -0.39, -0.38, -0.38, -0.37],
    [-0.78, -0.76, -0.74, -0.72, -0.70, -0.68, -0.66, -0.64, -0.62, -0.60, -0.58],
    [-1.52, -1.46, -1.41, -1.35, -1.30, -1.24, -1.18, -1.13, -1.07, -1.02, -0.96],
    [-2.25, -2.16, -2.06, -1.97, -1.88, -1.79, -1.69, -1.60, -1.51, -1.41, -1.32],
    [-1.93, -1.86, -1.78, -1.71, -1.63, -1.56, -1.48, -1.41, -1.33, -1.26, -1.18],
    [-1.36, -1.32, -1.28, -1.23, -1.19, -1.15, -1.11, -1.07, -1.02, -0.98, -0.94],
    [-1.03, -1.00, -0.97, -0.95, -0.92, -0.89, -0.86, -0.83, -0.81, -0.78, -0.75],
    [-0.80, -0.78, -0.76, -0.73, -0.71, -0.69, -0.67, -0.65, -0.62, -0.60, -0.58],
    [-0.52, -0.51, -0.50, -0.49, -0.48, -0.48, -0.47, -0.46, -0.45, -0.44, -0.43],
    [-0.33, -0.33, -0.32, -0.32, -0.31, -0.31, -0.31, -0.30, -0.30, -0.29, -0.29],
    [-0.14, -0.15, -0.15, -0.16, -0.16, -0.17, -0.18, -0.18, -0.19, -0.19, -0.20],
    [-0.05, -0.06, -0.06, -0.07, -0.07, -0.08, -0.08, -0.09, -0.09, -0.10, -0.10],
    [0.12, 0.11, 0.10, 0.09, 0.08, 0.07, 0.05, 0.04, 0.03, 0.02, 0.01],
    [0.25, 0.23, 0.22, 0.20, 0.19, 0.17, 0.15, 0.14, 0.12, 0.11, 0.09],
    [0.32, 0.30, 0.28, 0.27, 0.25, 0.23, 0.21, 0.19, 0.18, 0.16, 0.14],
    [0.36, 0.34, 0.33, 0.31, 0.30, 0.28, 0.26, 0.25, 0.23, 0.22, 0.20],
    [0.37, 0.35, 0.34, 0.32, 0.30, 0.29, 0.27, 0.25, 0.23, 0.22, 0.20],
    [0.40, 0.38, 0.37, 0.35, 0.34, 0.32, 0.30, 0.29, 0.27, 0.26, 0.24],
    [0.45, 0.43, 0.41, 0.39, 0.37, 0.35, 0.32, 0.30, 0.28, 0.26, 0.24],
    [0.40, 0.38, 0.37, 0.35, 0.34, 0.32, 0.30, 0.29, 0.27, 0.26, 0.24],
]

# ---------------- Bank credit to NFCs ----------------
credit_black = [1.17, 0.91, 1.71, 2.51, 2.64, 2.71, 2.97, 3.31, 3.71, 4.25, 3.51, 3.77, 4.01, 3.11, 2.24, 1.20, -1.70,
                -5.50, -8.76, -9.80, -9.97, -9.50, -8.60, -8.10, -7.30, -5.70, -4.30, -2.30, -0.40, 0.90, 1.71, 2.51, 3.24]
credit_red = [1.57, 1.37, 1.71, 1.84, 1.31, 1.77, 1.57, 1.57, 1.24, 0.71, 0.17, -0.36, -1.09, -1.69, -2.40, -3.30, -4.80,
              -6.80, -8.15, -8.55, -8.20, -7.10, -5.75, -4.40, -2.90, -1.55, -0.30, 0.80, 1.85, 2.57, 3.11, 3.51, 3.80]
credit_fan = [
    [1.30, 1.40, 1.50, 1.60, 1.70, 1.75, 1.80, 1.90, 1.95, 2.00, 2.11],
    [1.10, 1.20, 1.30, 1.40, 1.45, 1.50, 1.55, 1.60, 1.70, 1.75, 1.84],
    [1.75, 1.80, 1.85, 1.90, 1.95, 2.00, 2.05, 2.10, 2.15, 2.20, 2.31],
    [2.40, 2.35, 2.30, 2.30, 2.25, 2.25, 2.20, 2.20, 2.25, 2.30, 2.31],
    [2.55, 2.45, 2.35, 2.25, 2.15, 2.10, 2.00, 1.95, 1.90, 1.85, 1.77],
    [2.65, 2.60, 2.55, 2.50, 2.45, 2.40, 2.30, 2.25, 2.20, 2.10, 2.04],
    [2.85, 2.70, 2.55, 2.40, 2.30, 2.20, 2.05, 1.95, 1.80, 1.70, 1.57],
    [3.15, 2.85, 2.60, 2.45, 2.30, 2.15, 2.00, 1.85, 1.70, 1.50, 1.31],
    [3.50, 2.95, 2.60, 2.30, 2.05, 1.80, 1.60, 1.35, 1.10, 0.80, 0.51],
    [3.85, 3.00, 2.55, 2.20, 1.95, 1.70, 1.45, 1.20, 1.00, 0.75, 0.51],
    [3.40, 2.75, 2.30, 1.90, 1.55, 1.20, 0.90, 0.60, 0.30, 0.00, -0.23],
    [3.50, 2.40, 1.90, 1.50, 1.15, 0.80, 0.50, 0.20, -0.10, -0.40, -0.69],
    [3.57, 2.44, 2.00, 1.60, 1.25, 0.90, 0.60, 0.25, -0.10, -0.60, -1.43],
    [2.20, 1.10, 0.60, 0.20, -0.20, -0.60, -0.95, -1.30, -1.70, -2.10, -2.63],
    [1.11, 0.20, -0.30, -0.70, -1.10, -1.50, -1.90, -2.30, -2.80, -3.30, -3.96],
    [-0.76, -1.90, -2.50, -3.00, -3.40, -3.80, -4.20, -4.60, -5.00, -5.40, -5.83],
    [-3.50, -4.80, -5.60, -6.20, -6.60, -6.90, -7.20, -7.60, -8.10, -8.80, -9.96],
    [-6.30, -6.80, -7.00, -7.20, -7.30, -7.30, -7.20, -7.00, -7.00, -7.10, -7.30],
    [-8.40, -8.00, -7.70, -7.40, -7.10, -6.80, -6.40, -6.10, -5.70, -5.30, -4.80],
    [-9.60, -8.60, -8.30, -7.90, -7.50, -7.00, -6.50, -6.00, -5.40, -4.90, -4.20],
    [-9.70, -8.90, -8.00, -7.50, -7.00, -6.40, -5.80, -5.20, -4.60, -4.00, -3.40],
    [-9.20, -8.20, -7.30, -6.70, -6.10, -5.50, -4.90, -4.40, -3.80, -3.30, -2.80],
    [-8.30, -7.40, -6.50, -5.90, -5.30, -4.60, -3.90, -3.20, -2.50, -1.80, -1.05],
    [-7.80, -6.90, -6.00, -5.30, -4.60, -3.90, -3.20, -2.60, -2.20, -1.60, -0.90],
    [-7.00, -6.00, -5.10, -4.40, -3.70, -3.00, -2.30, -1.70, -1.10, -0.50, 0.10],
    [-5.60, -4.60, -3.80, -3.10, -2.50, -1.90, -1.30, -0.70, -0.20, 0.30, 0.75],
    [-4.40, -3.40, -2.60, -1.90, -1.30, -0.70, -0.20, 0.30, 0.80, 1.30, 1.85],
    [-2.50, -1.70, -1.10, -0.60, -0.10, 0.40, 0.80, 1.20, 1.70, 2.10, 2.55],
    [-0.70, -0.10, 0.40, 0.80, 1.10, 1.50, 1.80, 2.10, 2.40, 2.60, 2.77],
    [0.70, 1.10, 1.50, 1.80, 2.00, 2.30, 2.50, 2.60, 2.75, 2.85, 2.91],
    [1.80, 2.10, 2.30, 2.50, 2.60, 2.80, 2.90, 3.00, 3.05, 3.10, 3.11],
    [2.60, 2.80, 2.90, 3.00, 3.10, 3.15, 3.20, 3.20, 3.25, 3.25, 3.24],
    [3.30, 3.35, 3.35, 3.30, 3.30, 3.20, 3.20, 3.10, 3.10, 3.00, 2.97],
]

panels = [
    dict(black=sov_spread_black, red=sov_spread_red, fan=sov_spread_fan, yrange=[0, 6], ytick=[0, 2, 4, 6]),
    dict(black=bank_spread_black, red=bank_spread_red, fan=bank_spread_fan, yrange=[2, 5], ytick=[2, 3, 4, 5]),
    dict(black=corp_spread_black, red=corp_spread_red, fan=corp_spread_fan, yrange=[2, 4], ytick=[2, 3, 4]),
    dict(black=sov_debt_black, red=sov_debt_red, fan=sov_debt_fan, yrange=[46.5, 70], ytick=[50, 60, 70]),
    dict(black=bank_exp_black, red=bank_exp_red, fan=bank_exp_fan, yrange=[0, 20], ytick=[0, 10, 20]),
    dict(black=foreign_black, red=foreign_red, fan=foreign_fan, yrange=[40, 100], ytick=[40, 60, 80, 100]),
    dict(black=output_black, red=output_red, fan=output_fan, yrange=[-2, 1], ytick=[-2, -1, 0, 1]),
    dict(black=cons_black, red=cons_red, fan=cons_fan, yrange=[-3, 1.06], ytick=[-3, -2, -1, 0, 1]),
    dict(black=credit_black, red=credit_red, fan=credit_fan, yrange=[-10, 4.22], ytick=[0]),
]

# ---------------- layout geometry (pixels) ----------------
col_px = [(244, 1099), (1380, 2233), (2519, 3371)]
row_px = [(176, 781), (1086, 1691), (1997, 2603)]
title_y_px = [92, 1005, 1915]
ytitle_x_px = [119, 1257, 2395, 81, 1222, 2326, 94, 1235, 2392]

n_fan = 11
fan_colors = ["rgb(51,%d,204)" % round(255 * k / (n_fan - 1)) for k in range(n_fan)]

AX = "#262626"
tickfont = dict(family="Liberation Sans, Arial, sans-serif", size=65, color=AX)

fig = go.Figure()
layout = dict(width=W, height=H, margin=dict(l=0, r=0, t=0, b=0),
              paper_bgcolor="white", plot_bgcolor="white", showlegend=False,
              annotations=[])

for i, p in enumerate(panels):
    r, c = divmod(i, 3)
    xa = "x" if i == 0 else "x%d" % (i + 1)
    ya = "y" if i == 0 else "y%d" % (i + 1)
    for k in range(n_fan):
        fig.add_trace(go.Scatter(x=t, y=[row[k] for row in p["fan"]], mode="lines",
                                 line=dict(color=fan_colors[k], width=12.5),
                                 xaxis=xa, yaxis=ya, hoverinfo="skip"))
    fig.add_trace(go.Scatter(x=t, y=p["black"], mode="lines",
                             line=dict(color="black", width=15),
                             xaxis=xa, yaxis=ya, hoverinfo="skip"))
    fig.add_trace(go.Scatter(x=t, y=p["red"], mode="lines",
                             line=dict(color="#FF0000", width=12.5, dash="dot"),
                             xaxis=xa, yaxis=ya, hoverinfo="skip"))

    x0, x1 = col_px[c]
    y0, y1 = row_px[r]
    common = dict(showline=True, linecolor=AX, linewidth=2.5, mirror="ticks",
                  ticks="inside", ticklen=12, tickwidth=2.5, tickcolor=AX,
                  showgrid=True, gridcolor="#DFDFDF", gridwidth=2.5,
                  zeroline=False, tickfont=tickfont, automargin=False, fixedrange=True)
    xkey = "xaxis" if i == 0 else "xaxis%d" % (i + 1)
    ykey = "yaxis" if i == 0 else "yaxis%d" % (i + 1)
    layout[xkey] = dict(common, domain=[x0 / W, x1 / W], range=[-16, 16],
                        tickvals=x_tickvals, ticktext=x_ticktext,
                        anchor=ya, ticklabelstandoff=13)
    layout[ykey] = dict(common, domain=[1 - y1 / H, 1 - y0 / H], range=p["yrange"],
                        tickvals=p["ytick"], ticktext=[str(v) for v in p["ytick"]],
                        anchor=xa, ticklabelstandoff=14)
    layout["annotations"].append(dict(
        text=titles[i], x=(x0 + x1) / 2 / W, y=1 - title_y_px[r] / H,
        xref="paper", yref="paper", xanchor="center", yanchor="middle", showarrow=False,
        font=dict(family="Liberation Serif, Times New Roman, serif", size=100, color="black")))
    layout["annotations"].append(dict(
        text=ytitles[i], x=ytitle_x_px[i] / W, y=1 - (y0 + y1) / 2 / H,
        xref="paper", yref="paper", xanchor="center", yanchor="middle", showarrow=False,
        textangle=-90,
        font=dict(family="Liberation Serif, Times New Roman, serif", size=79, color="#1a1a1a")))

fig.update_layout(**layout)
fig.write_html("out.html", config={"displayModeBar": False},
               post_script="document.body.style.margin='0';document.body.style.overflow='hidden';")
